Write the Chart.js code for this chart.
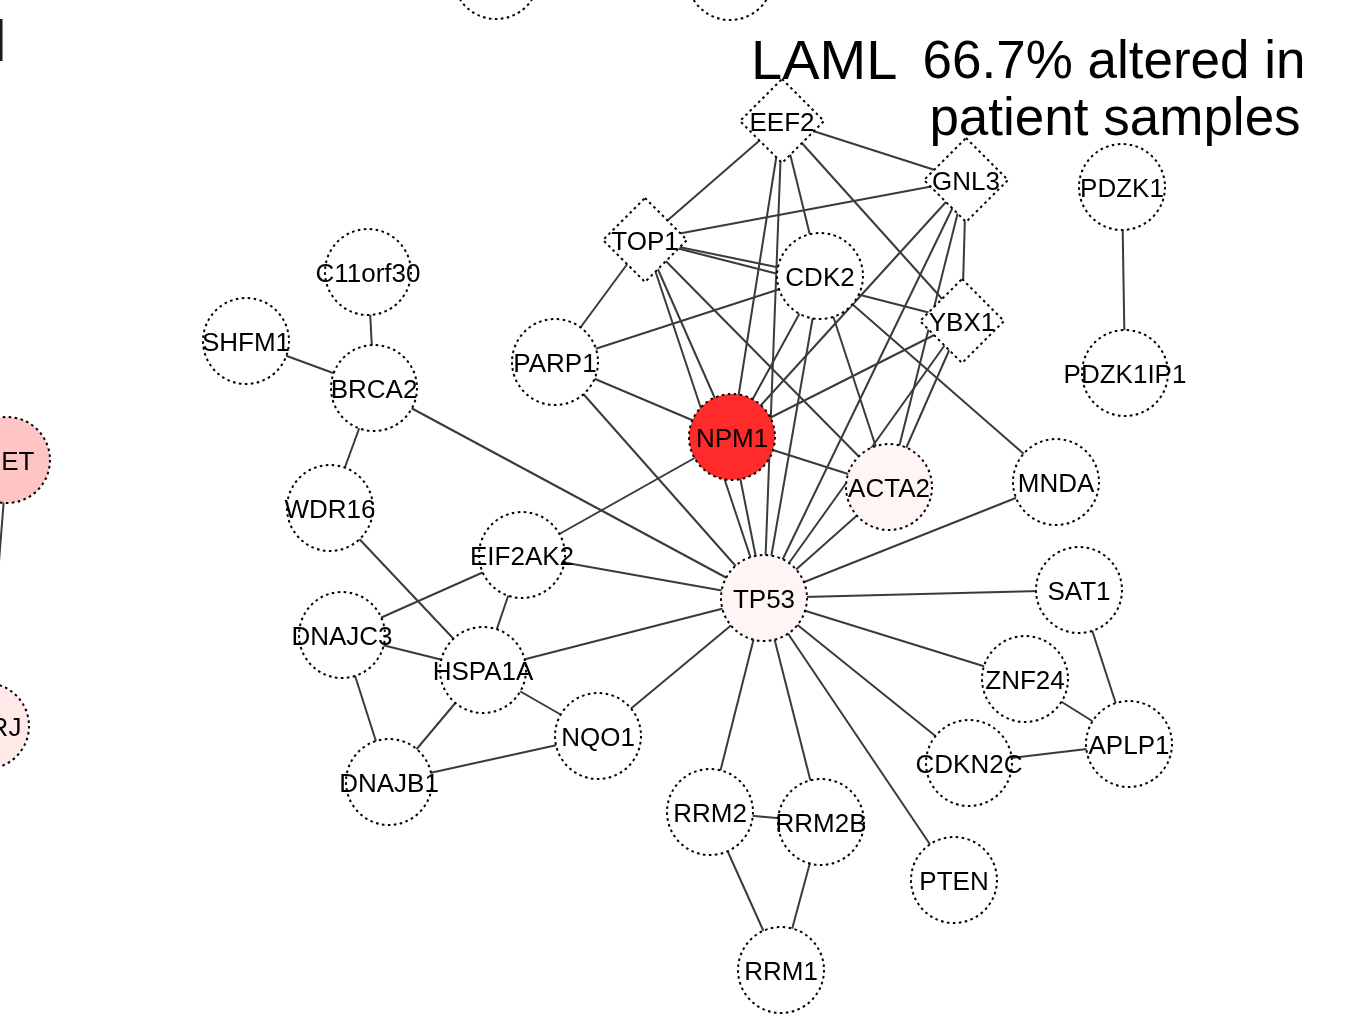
<!DOCTYPE html>
<html>
<head>
<meta charset="utf-8">
<script src="https://cdn.jsdelivr.net/npm/chart.js@4.4.1/dist/chart.umd.min.js"></script>
<style>
  html, body { margin: 0; padding: 0; background: #ffffff; overflow: hidden; }
  #wrap { width: 1366px; height: 1014px; position: relative; }
</style>
</head>
<body>
<div id="wrap"><canvas id="net" width="1366" height="1014"></canvas></div>
<script>
// Interaction network around NPM1 (layout units: 1366 x 1014, y grows downwards)
const geneNames = ['EEF2', 'GNL3', 'TOP1', 'YBX1', 'CDK2', 'PDZK1', 'PDZK1IP1', 'C11orf30',
  'SHFM1', 'BRCA2', 'PARP1', 'NPM1', 'ACTA2', 'MNDA', 'WDR16', 'EIF2AK2', 'TP53', 'SAT1',
  'DNAJC3', 'HSPA1A', 'ZNF24', 'APLP1', 'NQO1', 'CDKN2C', 'DNAJB1', 'RRM2', 'RRM2B', 'PTEN',
  'RRM1', 'MET', 'RJ', 'top_a', 'top_b'];
const geneX = [782, 966, 645, 962, 820, 1122, 1125, 368,
  246, 374, 555, 732, 889, 1056, 330, 522, 764, 1079,
  342, 483, 1025, 1129, 598, 969, 389, 710, 821, 954,
  781, 7, -14, 496, 730];
const geneY = [121, 180, 240, 321, 276, 187, 373, 272,
  341, 388, 362, 437, 487, 482, 508, 555, 598, 590,
  635, 670, 679, 744, 736, 763, 782, 812, 822, 880,
  970, 460, 726, -24, -23];

// text shown inside each node (nodes cut by the frame show only part of it)
const geneLabels = geneNames.map(n => n.startsWith('top_') ? '' : n);
geneLabels[geneNames.indexOf('RJ')] = '\u2002\u2002\u2002RJ';

// drug-target style nodes are drawn as diamonds
const diamondGenes = ['EEF2', 'GNL3', 'TOP1', 'YBX1'];

// alteration level of the altered genes (0 = white, 1 = full red)
const alteredGenes = ['NPM1', 'MET', 'RJ', 'ACTA2', 'TP53'];
const alteredLevel = [0.83, 0.23, 0.09, 0.04, 0.04];

// pairwise interactions
const interactions = [
  ['EEF2', 'TOP1'], ['EEF2', 'GNL3'], ['EEF2', 'NPM1'], ['EEF2', 'TP53'], ['EEF2', 'CDK2'], ['EEF2', 'YBX1'],
  ['GNL3', 'TOP1'], ['GNL3', 'YBX1'], ['GNL3', 'NPM1'], ['GNL3', 'TP53'], ['GNL3', 'ACTA2'],
  ['TOP1', 'CDK2'], ['TOP1', 'YBX1'], ['TOP1', 'PARP1'], ['TOP1', 'NPM1'], ['TOP1', 'TP53'], ['TOP1', 'ACTA2'],
  ['CDK2', 'PARP1'], ['CDK2', 'NPM1'], ['CDK2', 'TP53'], ['CDK2', 'ACTA2'], ['CDK2', 'MNDA'],
  ['YBX1', 'NPM1'], ['YBX1', 'ACTA2'], ['YBX1', 'TP53'],
  ['PARP1', 'NPM1'], ['PARP1', 'TP53'],
  ['NPM1', 'ACTA2'], ['NPM1', 'EIF2AK2'], ['NPM1', 'TP53'],
  ['ACTA2', 'TP53'], ['MNDA', 'TP53'],
  ['BRCA2', 'C11orf30'], ['BRCA2', 'SHFM1'], ['BRCA2', 'WDR16'], ['BRCA2', 'TP53'],
  ['WDR16', 'HSPA1A'],
  ['EIF2AK2', 'TP53'], ['EIF2AK2', 'DNAJC3'], ['EIF2AK2', 'HSPA1A'],
  ['DNAJC3', 'HSPA1A'], ['DNAJC3', 'DNAJB1'],
  ['HSPA1A', 'DNAJB1'], ['HSPA1A', 'NQO1'], ['HSPA1A', 'TP53'],
  ['NQO1', 'DNAJB1'], ['NQO1', 'TP53'],
  ['TP53', 'SAT1'], ['TP53', 'ZNF24'], ['TP53', 'CDKN2C'], ['TP53', 'PTEN'], ['TP53', 'RRM2B'], ['TP53', 'RRM2'],
  ['SAT1', 'APLP1'], ['ZNF24', 'APLP1'], ['CDKN2C', 'APLP1'],
  ['RRM2', 'RRM2B'], ['RRM2', 'RRM1'], ['RRM2B', 'RRM1'],
  ['PDZK1', 'PDZK1IP1'],
  ['MET', 'RJ']
];

const titleCancer = 'LAML';
const titleFreq = ['66.7% altered in', 'patient samples'];

// ---- node glyphs -------------------------------------------------------
const NODE_R = 43;
const glyphCache = {};
function shadeColor(level) {
  const r = 255, g = Math.round(255 - 255 * level), b = Math.round(255 - 255 * level);
  return `rgb(${r},${g},${b})`;
}
function nodeGlyph(shape, fill) {
  const key = shape + fill;
  if (glyphCache[key]) return glyphCache[key];
  const size = 2 * (NODE_R + 4);
  const c = document.createElement('canvas');
  c.width = size; c.height = size;
  const g = c.getContext('2d');
  g.translate(size / 2, size / 2);
  g.beginPath();
  if (shape === 'diamond') {
    const h = 42;
    g.moveTo(0, -h); g.lineTo(h, 0); g.lineTo(0, h); g.lineTo(-h, 0); g.closePath();
  } else {
    g.arc(0, 0, NODE_R, 0, Math.PI * 2);
  }
  g.fillStyle = fill;
  g.fill();
  g.setLineDash([2.6, 3.4]);
  g.lineWidth = 2;
  g.strokeStyle = '#000000';
  g.stroke();
  glyphCache[key] = c;
  return c;
}
function glyphFor(i) {
  const name = geneNames[i];
  const k = alteredGenes.indexOf(name);
  const fill = k >= 0 ? shadeColor(alteredLevel[k]) : '#ffffff';
  return nodeGlyph(diamondGenes.includes(name) ? 'diamond' : 'circle', fill);
}

// ---- datasets ----------------------------------------------------------
const nodePoints = geneNames.map((n, i) => ({ x: geneX[i], y: geneY[i] }));
const idx = name => geneNames.indexOf(name);

const nodeDataset = {
  label: 'genes',
  data: nodePoints,
  order: 0,
  clip: false,
  pointRadius: NODE_R,
  pointHoverRadius: NODE_R,
  pointStyle: ctx => glyphFor(ctx.dataIndex),
  showLine: false
};

const edgeDatasets = interactions.map(([a, b]) => ({
  label: a + '-' + b,
  data: [nodePoints[idx(a)], nodePoints[idx(b)]],
  order: 1,
  clip: false,
  showLine: true,
  borderColor: '#3a3a3a',
  borderWidth: 2,
  pointRadius: 0,
  pointHoverRadius: 0,
  fill: false
}));

// ---- labels and heading ------------------------------------------------
const FONT = '"Liberation Sans", Arial, Helvetica, sans-serif';
const textPlugin = {
  id: 'netText',
  afterDatasetsDraw(chart) {
    const ctx = chart.ctx;
    const meta = chart.getDatasetMeta(0);
    ctx.save();
    ctx.fillStyle = '#000000';
    ctx.textAlign = 'center';
    ctx.textBaseline = 'alphabetic';
    ctx.font = '26px ' + FONT;
    meta.data.forEach((pt, i) => {
      if (geneLabels[i]) ctx.fillText(geneLabels[i], pt.x, pt.y + 9.5);
    });

    // heading
    ctx.textAlign = 'left';
    ctx.font = '56px ' + FONT;
    ctx.fillText(titleCancer, 751, 79);
    ctx.textAlign = 'center';
    ctx.font = '53px ' + FONT;
    ctx.fillText(titleFreq[0], 1114, 78);
    ctx.fillText(titleFreq[1], 1115, 135);

    // stroke of a neighbouring heading reaching into the frame
    ctx.fillStyle = '#1a1a1a';
    ctx.fillRect(0, 19, 2.5, 42);
    ctx.restore();
  }
};

new Chart(document.getElementById('net'), {
  type: 'scatter',
  data: { datasets: [nodeDataset, ...edgeDatasets] },
  options: {
    responsive: false,
    animation: false,
    devicePixelRatio: 1,
    events: [],
    layout: { autoPadding: false, padding: 0 },
    scales: {
      x: { type: 'linear', min: 0, max: 1366, display: false },
      y: { type: 'linear', min: 0, max: 1014, reverse: true, display: false }
    },
    plugins: {
      legend: { display: false },
      tooltip: { enabled: false },
      title: { display: false }
    }
  },
  plugins: [textPlugin]
});
</script>
</body>
</html>
